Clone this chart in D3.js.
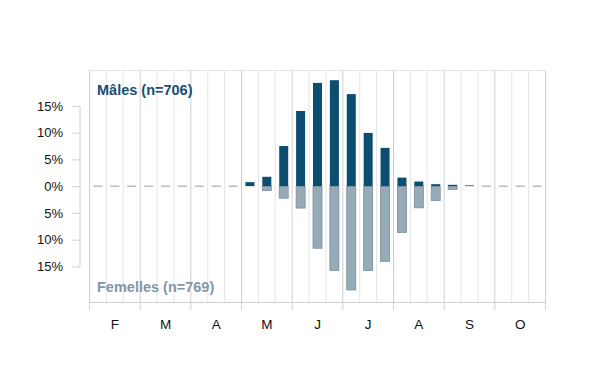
<!DOCTYPE html>
<html><head><meta charset="utf-8">
<script src="https://cdn.jsdelivr.net/npm/d3@7"></script>
<style>body{margin:0;background:#fff;}svg{display:block;font-family:"Liberation Sans",Arial,sans-serif;}</style>
</head><body>
<script>
const months = ["F","M","A","M","J","J","A","S","O"];
const decades = d3.range(27);
const males   = [0,0,0,0,0,0,0,0,0,0.75,1.75,7.5,14.05,19.3,19.8,17.2,9.95,7.15,1.6,0.86,0.37,0.25,0.14,0,0,0,0];
const females = [0,0,0,0,0,0,0,0,0,0,0.8,2.25,4.1,11.6,15.75,19.4,15.75,14.05,8.65,4.05,2.7,0.63,0,0,0,0,0];
const yTicks = [15,10,5,0,-5,-10,-15];

const W=600,H=390;
const svg=d3.select("body").append("svg").attr("width",W).attr("height",H);
const x=d3.scaleBand().domain(decades).range([89.5,545.5]);
const y=d3.scaleLinear().domain([-21.65,21.65]).range([302,70.3]);
const xm=d3.scaleBand().domain(d3.range(9)).range([89.5,545.5]);

// grid
svg.append("g").selectAll("line").data(d3.range(28)).join("line")
  .attr("x1",i=>89.5+i*x.step()).attr("x2",i=>89.5+i*x.step())
  .attr("y1",70.5).attr("y2",302)
  .attr("stroke",i=>i%3===0?"#d0d0d0":"#e4e4e4").attr("stroke-width",1);
svg.append("line").attr("x1",89.5).attr("x2",545.5).attr("y1",70.5).attr("y2",70.5).attr("stroke","#e4e4e4");

// bottom axis
const xAxis=d3.axisBottom(xm).tickSize(0).tickFormat(i=>months[i]);
const gx=svg.append("g").attr("transform","translate(0,302)").call(xAxis);
gx.select(".domain").attr("stroke","#d0d0d0");
gx.selectAll("text").attr("font-size","13.5px").attr("fill","#111").attr("dy","1.75em")
  .attr("font-family","Liberation Sans, Arial, sans-serif");
svg.append("g").selectAll("line").data(d3.range(10)).join("line")
  .attr("x1",i=>89.5+i*xm.step()).attr("x2",i=>89.5+i*xm.step())
  .attr("y1",302).attr("y2",310).attr("stroke","#d0d0d0");

// y axis
const yAxis=d3.axisLeft(y).tickValues(yTicks).tickSize(8).tickPadding(9).tickFormat(d=>Math.abs(d)+"%");
const gy=svg.append("g").attr("transform","translate(80,0)").call(yAxis);
gy.select(".domain").attr("d",`M0,${y(15)}V${y(-15)}`).attr("stroke","#d0d0d0");
gy.selectAll(".tick line").attr("stroke","#d0d0d0");
gy.selectAll("text").attr("font-size","13px").attr("fill","#111")
  .attr("font-family","Liberation Sans, Arial, sans-serif");

const bw=9;
const bx=i=>x(i)+x.bandwidth()/2-bw/2;
// zero dashes
svg.append("g").selectAll("line").data(decades.filter(i=>males[i]===0&&females[i]===0)).join("line")
  .attr("x1",i=>bx(i)).attr("x2",i=>bx(i)+bw).attr("y1",y(0)).attr("y2",y(0))
  .attr("stroke","#9a9a9a").attr("stroke-width",1);
// females
svg.append("g").selectAll("rect").data(decades.filter(i=>females[i]>0)).join("rect")
  .attr("x",i=>bx(i)).attr("width",bw).attr("y",y(0)).attr("height",i=>y(-females[i])-y(0))
  .attr("fill","#97aab7").attr("stroke","#7b8d9a").attr("stroke-width",0.8);
// males
svg.append("g").selectAll("rect").data(decades.filter(i=>males[i]>0)).join("rect")
  .attr("x",i=>bx(i)).attr("width",bw).attr("y",i=>y(males[i])).attr("height",i=>y(0)-y(males[i]))
  .attr("fill","#0c4d72");

svg.append("text").attr("x",97).attr("y",94.5).attr("font-size","14.5px").attr("font-weight","bold")
  .attr("fill","#164e74").text("Mâles (n=706)");
svg.append("text").attr("x",97).attr("y",292).attr("font-size","14.5px").attr("font-weight","bold")
  .attr("fill","#8396a6").text("Femelles (n=769)");
</script>
</body></html>
